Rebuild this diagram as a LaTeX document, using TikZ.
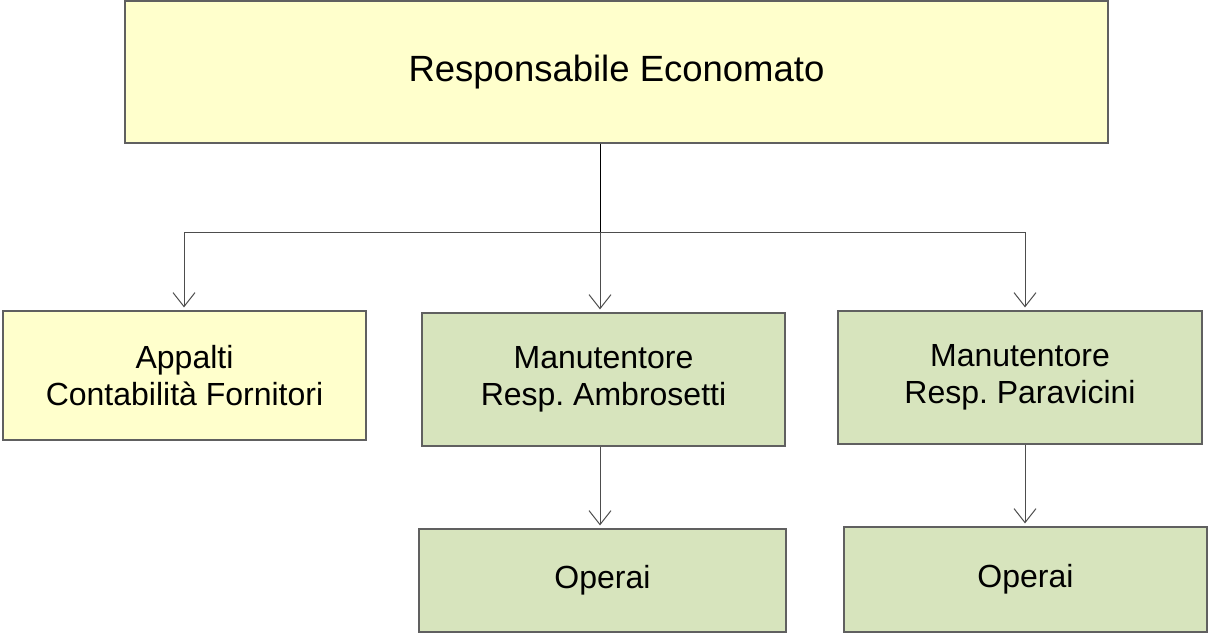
\documentclass[tikz,border=0pt]{standalone}
\usepackage{fontspec}
\setmainfont{Liberation Sans}
\usetikzlibrary{arrows.meta}
\definecolor{boxyellow}{HTML}{FFFFCC}
\definecolor{boxgreen}{HTML}{D7E4BD}
\definecolor{edgegray}{HTML}{606060}
\frenchspacing
\begin{document}
\begin{tikzpicture}[x=1pt,y=-1pt,
  orgbox/.style={draw=edgegray,line width=1.2pt,inner sep=0pt,align=center,
    font=\fontsize{32}{37}\selectfont},
  link/.style={draw=edgegray!80!black,line width=1pt},
  arrowlink/.style={link,-{Straight Barb[length=14pt,width=22pt]},shorten >=3pt}]
\useasboundingbox (0,0) rectangle (1209,635);

% boxes
\node[orgbox,fill=boxyellow,minimum width=983pt,minimum height=142pt,
  font=\fontsize{36.5}{40}\selectfont] (head) at (616.5,72) {\raisebox{-2pt}{Responsabile Economato}};
\node[orgbox,fill=boxyellow,minimum width=363pt,minimum height=129pt] (app) at (184.5,375.5)
  {Appalti\\Contabilità Fornitori};
\node[orgbox,fill=boxgreen,minimum width=363pt,minimum height=133pt] (amb) at (603.5,379.5)
  {Manutentore\\Resp. Ambrosetti};
\node[orgbox,fill=boxgreen,minimum width=364pt,minimum height=133pt] (par) at (1020,377.5)
  {Manutentore\\Resp. Paravicini};
\node[orgbox,fill=boxgreen,minimum width=367pt,minimum height=103pt] (op1) at (602.5,580.5) {Operai};
\node[orgbox,fill=boxgreen,minimum width=363pt,minimum height=105pt] (op2) at (1025.5,579.5) {Operai};

% bus line below the head box
\coordinate (busl) at (184,232);
\coordinate (busm) at (600,232);
\coordinate (busr) at (1025,232);
\draw[line width=1pt,black] (head.south -| busm) -- (busm);
\draw[link] (busl) -- (busr);

% branches
\draw[arrowlink] (busl) -- (busl |- app.north);
\draw[arrowlink] (busm) -- (busm |- amb.north);
\draw[arrowlink] (busr) -- (busr |- par.north);
\draw[arrowlink] (amb.south -| busm) -- (busm |- op1.north);
\draw[arrowlink] (par.south -| busr) -- (busr |- op2.north);
\end{tikzpicture}
\end{document}
